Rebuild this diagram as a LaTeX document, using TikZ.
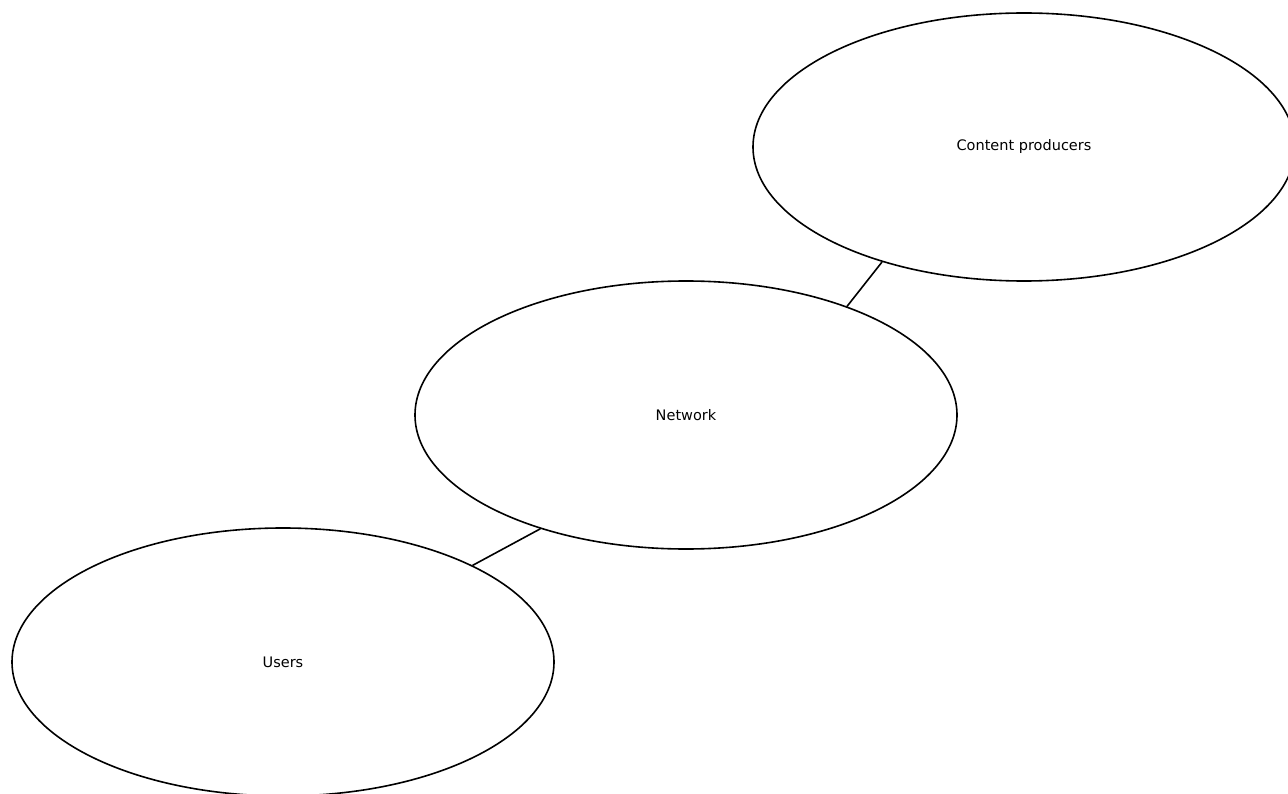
\documentclass[tikz,border=0pt]{standalone}
\usepackage{fontspec}
\setmainfont{DejaVu Sans}
\usetikzlibrary{shapes.geometric}
\begin{document}
\begin{tikzpicture}[x=1pt,y=-1pt,
  blob/.style={ellipse,draw,line width=1.6pt,inner sep=0pt,
    minimum width=542pt,minimum height=268pt,font=\fontsize{14.5}{17}\selectfont},
  link/.style={line width=1.6pt}]
  \useasboundingbox (0,0) rectangle (1288,794);
  \node[blob] (producers) at (1024,147) {Content producers};
  \node[blob] (network) at (686,415) {Network};
  \node[blob] (users) at (283,662) {Users};
  \draw[link] (network.34) -- (producers.219);
  \draw[link] (users.27) -- (network.218);
\end{tikzpicture}
\end{document}
